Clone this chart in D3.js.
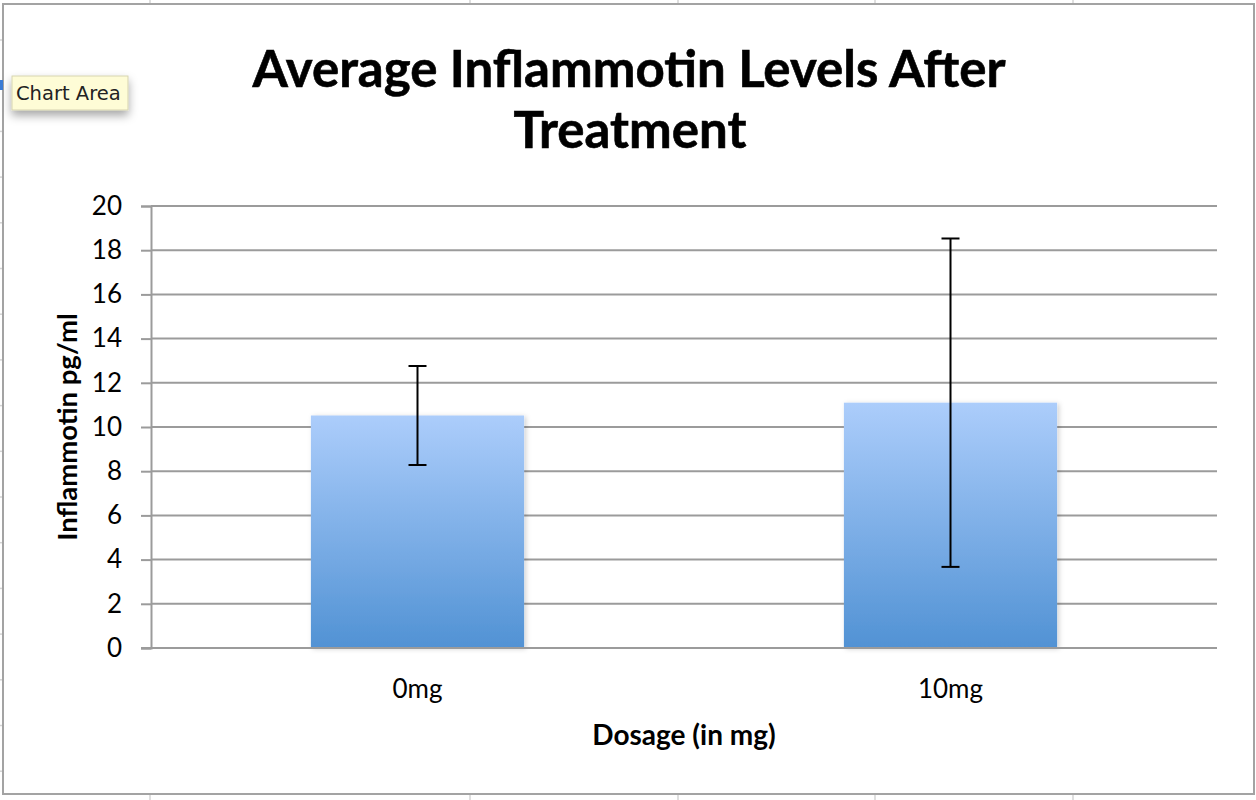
<!DOCTYPE html>
<html lang="en">
<head>
    <meta charset="UTF-8">
    <title>Average Inflammotin Levels After Treatment</title>
    <script src="https://cdnjs.cloudflare.com/ajax/libs/d3/7.8.5/d3.min.js"></script>
    <style>
      html, body { margin: 0; padding: 0; background: #fff; }
      svg { display: block; }
    </style>
</head>
<body>
<svg id="chart" width="1256" height="800"></svg>
<script>
    const categories = ['0mg', '10mg'];
    const means = [10.52, 11.1];
    const errors = [2.24, 7.43];
    const yTicks = [0, 2, 4, 6, 8, 10, 12, 14, 16, 18, 20];

    const W = 1256, H = 800;
    const plot = { left: 151, right: 1217, top: 206, bottom: 648 };
    const font = 'Lato, "Open Sans", sans-serif';

    const svg = d3.select('#chart');

    const defs = svg.append('defs');
    const grad = defs.append('linearGradient')
      .attr('id', 'barGrad')
      .attr('x1', 0).attr('y1', 0).attr('x2', 0).attr('y2', 1);
    grad.append('stop').attr('offset', '0%').attr('stop-color', '#accdfb');
    grad.append('stop').attr('offset', '100%').attr('stop-color', '#5192d4');

    const shadow = defs.append('filter').attr('id', 'barShadow')
      .attr('x', '-10%').attr('y', '-10%').attr('width', '120%').attr('height', '120%');
    shadow.append('feDropShadow')
      .attr('dx', 2).attr('dy', 1).attr('stdDeviation', 2.5)
      .attr('flood-color', '#000').attr('flood-opacity', 0.18);

    const tipShadow = defs.append('filter').attr('id', 'tipShadow')
      .attr('x', '-30%').attr('y', '-50%').attr('width', '160%').attr('height', '250%');
    tipShadow.append('feDropShadow')
      .attr('dx', 0).attr('dy', 5).attr('stdDeviation', 5)
      .attr('flood-color', '#000').attr('flood-opacity', 0.35);

    // spreadsheet grid peeking out behind the chart
    const colLines = [150, 470, 678, 875, 1073];
    const sheet = svg.append('g').attr('stroke', '#d4d4d4').attr('stroke-width', 1.5);
    colLines.forEach(x => {
      sheet.append('line').attr('x1', x).attr('x2', x).attr('y1', 0).attr('y2', 4);
      sheet.append('line').attr('x1', x).attr('x2', x).attr('y1', 795).attr('y2', H);
    });
    d3.range(40, 800, 45.7).forEach(y => {
      sheet.append('line').attr('x1', 0).attr('x2', 3).attr('y1', y).attr('y2', y);
    });

    // chart area
    svg.append('rect')
      .attr('x', 3).attr('y', 4)
      .attr('width', 1251).attr('height', 790)
      .attr('fill', '#fff')
      .attr('stroke', '#a3a3a3').attr('stroke-width', 2);

    const x = d3.scaleBand()
      .domain(categories)
      .range([plot.left, plot.right])
      .paddingInner(0.6)
      .paddingOuter(0.3);

    const y = d3.scaleLinear()
      .domain([0, 20])
      .range([plot.bottom, plot.top]);

    // gridlines
    svg.append('g')
      .selectAll('line')
      .data(yTicks.filter(t => t > 0))
      .enter()
      .append('line')
      .attr('x1', plot.left)
      .attr('x2', plot.right)
      .attr('y1', d => y(d))
      .attr('y2', d => y(d))
      .attr('stroke', '#9b9b9b')
      .attr('stroke-width', 2);

    // y axis
    const yAxis = svg.append('g')
      .attr('transform', `translate(${plot.left},0)`)
      .call(d3.axisLeft(y).tickValues(yTicks).tickSize(10).tickPadding(19));
    yAxis.select('.domain').attr('stroke', '#9b9b9b').attr('stroke-width', 2);
    yAxis.selectAll('.tick line').attr('stroke', '#9b9b9b').attr('stroke-width', 2);
    yAxis.selectAll('.tick text')
      .attr('font-family', font)
      .attr('font-size', 26)
      .attr('fill', '#000');

    // bars
    svg.append('g')
      .selectAll('rect')
      .data(categories)
      .enter()
      .append('rect')
      .attr('x', d => x(d))
      .attr('y', (d, i) => y(means[i]))
      .attr('width', x.bandwidth())
      .attr('height', (d, i) => y(0) - y(means[i]))
      .attr('fill', 'url(#barGrad)')
      .attr('filter', 'url(#barShadow)');

    // x axis line (drawn above bars)
    svg.append('line')
      .attr('x1', plot.left - 10).attr('x2', plot.right)
      .attr('y1', y(0)).attr('y2', y(0))
      .attr('stroke', '#9b9b9b').attr('stroke-width', 2);

    // error bars
    const eb = svg.append('g')
      .selectAll('g')
      .data(categories)
      .enter()
      .append('g')
      .attr('stroke', '#000')
      .attr('stroke-width', 2);
    eb.append('line')
      .attr('x1', d => x(d) + x.bandwidth() / 2)
      .attr('x2', d => x(d) + x.bandwidth() / 2)
      .attr('y1', (d, i) => y(means[i] + errors[i]))
      .attr('y2', (d, i) => y(means[i] - errors[i]));
    [1, -1].forEach(s => {
      eb.append('line')
        .attr('x1', d => x(d) + x.bandwidth() / 2 - 9)
        .attr('x2', d => x(d) + x.bandwidth() / 2 + 9)
        .attr('y1', (d, i) => y(means[i] + s * errors[i]))
        .attr('y2', (d, i) => y(means[i] + s * errors[i]));
    });

    // x tick labels
    svg.append('g')
      .selectAll('text')
      .data(categories)
      .enter()
      .append('text')
      .attr('x', d => x(d) + x.bandwidth() / 2)
      .attr('y', 698)
      .attr('text-anchor', 'middle')
      .attr('font-family', font)
      .attr('font-size', 26)
      .text(d => d);

    // titles
    const title = svg.append('text')
      .attr('text-anchor', 'middle')
      .attr('font-family', font)
      .attr('font-weight', 'bold')
      .attr('font-size', 51)
      .attr('stroke', '#000')
      .attr('stroke-width', 0.6);
    title.append('tspan').attr('x', 629).attr('y', 87).text('Average Inflammotin Levels After');
    title.append('tspan').attr('x', 630).attr('y', 148).text('Treatment');

    svg.append('text')
      .attr('x', (plot.left + plot.right) / 2)
      .attr('y', 745)
      .attr('text-anchor', 'middle')
      .attr('font-family', font)
      .attr('font-weight', 'bold')
      .attr('font-size', 28)
      .text('Dosage (in mg)');

    svg.append('text')
      .attr('transform', `translate(77,${(plot.top + plot.bottom) / 2}) rotate(-90)`)
      .attr('text-anchor', 'middle')
      .attr('font-family', font)
      .attr('font-weight', 'bold')
      .attr('font-size', 27.5)
      .text('Inflammotin pg/ml');

    // "Chart Area" tooltip
    svg.append('rect')
      .attr('x', 0).attr('y', 80).attr('width', 3).attr('height', 10)
      .attr('fill', '#3a7bd5');
    const tip = svg.append('g');
    tip.append('rect')
      .attr('x', 12).attr('y', 76).attr('width', 116).attr('height', 34)
      .attr('fill', '#fefcd6')
      .attr('stroke', '#d6d3b0').attr('stroke-width', 1)
      .attr('filter', 'url(#tipShadow)');
    tip.append('text')
      .attr('x', 16).attr('y', 100)
      .attr('font-family', '"DejaVu Sans", sans-serif')
      .attr('font-size', 19.5)
      .attr('fill', '#222')
      .text('Chart Area');
</script>
</body>
</html>
